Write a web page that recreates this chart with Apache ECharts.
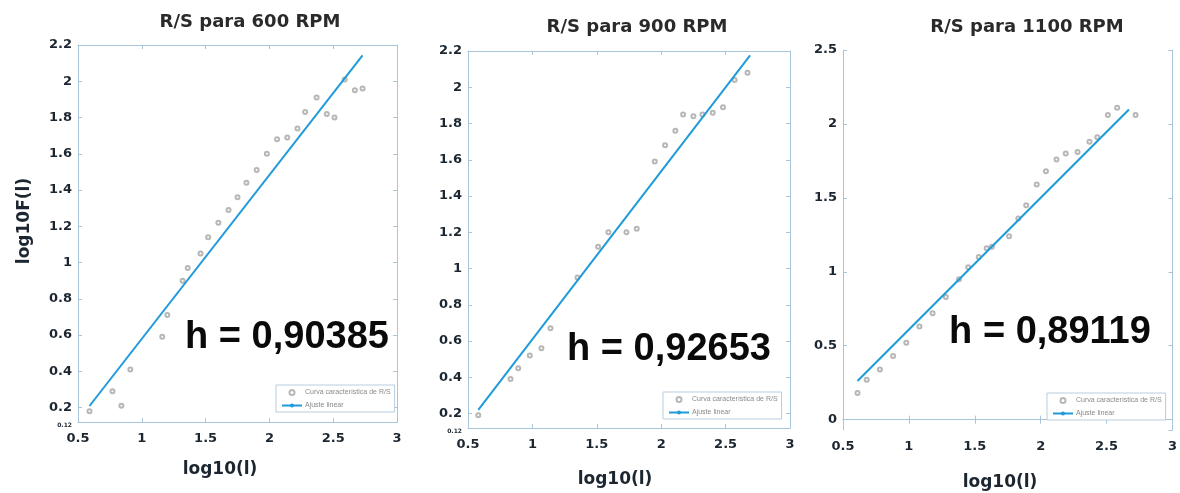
<!DOCTYPE html>
<html>
<head>
<meta charset="utf-8">
<title>R/S</title>
<script src="https://cdn.jsdelivr.net/npm/echarts@6/dist/echarts.min.js"></script>
<style>
  html, body { margin: 0; padding: 0; background: #ffffff; }
  #chart { width: 1180px; height: 493px; }
</style>
</head>
<body>
<div id="chart"></div>
<script>
// Panel titles and fitted Hurst exponents
const titles = ['R/S para 600 RPM', 'R/S para 900 RPM', 'R/S para 1100 RPM'];
const hurst = [0.90385, 0.92653, 0.89119];
const hLabels = ['h = 0,90385', 'h = 0,92653', 'h = 0,89119'];
const fitIntercept = [-0.325, -0.317, -0.282];
const fitRange = [[0.59, 2.73], [0.58, 2.69], [0.61, 2.67]];

// Axis ranges
const xRange = [0.5, 3];
const xStep = 0.5;
const yRanges = [[0.12, 2.2], [0.12, 2.2], [-0.07, 2.5]];
const ySteps = [0.2, 0.2, 0.5];

// log10(l) vs log10 F(l) points of the R/S curve
const rs600 = [
  [0.59, 0.18], [0.84, 0.21], [0.77, 0.29], [0.91, 0.41], [1.16, 0.59],
  [1.20, 0.71], [1.32, 0.90], [1.36, 0.97], [1.46, 1.05], [1.52, 1.14],
  [1.60, 1.22], [1.68, 1.29], [1.75, 1.36], [1.82, 1.44], [1.90, 1.51],
  [1.98, 1.60], [2.06, 1.68], [2.14, 1.69], [2.22, 1.74], [2.28, 1.83],
  [2.37, 1.91], [2.45, 1.82], [2.51, 1.80], [2.59, 2.01], [2.67, 1.95],
  [2.73, 1.96]
];
const rs900 = [
  [0.58, 0.19], [0.83, 0.39], [0.89, 0.45], [0.98, 0.52], [1.07, 0.56],
  [1.14, 0.67], [1.35, 0.95], [1.51, 1.12], [1.59, 1.20], [1.73, 1.20],
  [1.81, 1.22], [1.95, 1.59], [2.03, 1.68], [2.11, 1.76], [2.17, 1.85],
  [2.25, 1.84], [2.32, 1.85], [2.40, 1.86], [2.48, 1.89], [2.57, 2.04],
  [2.67, 2.08]
];
const rs1100 = [
  [0.61, 0.18], [0.68, 0.27], [0.78, 0.34], [0.88, 0.43], [0.98, 0.52],
  [1.08, 0.63], [1.18, 0.72], [1.28, 0.83], [1.38, 0.95], [1.45, 1.03],
  [1.53, 1.10], [1.59, 1.16], [1.63, 1.17], [1.76, 1.24], [1.83, 1.36],
  [1.89, 1.45], [1.97, 1.59], [2.04, 1.68], [2.12, 1.76], [2.19, 1.80],
  [2.28, 1.81], [2.37, 1.88], [2.43, 1.91], [2.51, 2.06], [2.58, 2.11],
  [2.72, 2.06]
];
const curves = [rs600, rs900, rs1100];

const NAME_CURVE = 'Curva característica de R/S';
const NAME_FIT = 'Ajuste linear';

const AXIS_COLOR = '#a9c5d9';
const LABEL_COLOR = '#1c2630';
const LABEL_FONT = 'DejaVu Sans';

const grids = [
  { left: 78, top: 45, width: 319, height: 377 },
  { left: 468, top: 51, width: 322, height: 377 },
  { left: 843, top: 50, width: 333, height: 380 }
];

const xAxes = [];
const yAxes = [];
const series = [];

grids.forEach(function (g, i) {
  const common = {
    gridIndex: i,
    type: 'value',
    axisLine: { show: true, lineStyle: { color: AXIS_COLOR, width: 1 } },
    axisTick: { show: true, inside: true, length: 4, lineStyle: { color: AXIS_COLOR } },
    splitLine: { show: false }
  };
  // bottom and top x axes (box with inward ticks)
  xAxes.push(Object.assign({}, common, {
    position: 'bottom', min: xRange[0], max: xRange[1], interval: xStep,
    axisLabel: { color: LABEL_COLOR, fontFamily: LABEL_FONT, fontWeight: 'bold', fontSize: 13, margin: 10 }
  }));
  xAxes.push(Object.assign({}, common, {
    position: 'top', min: xRange[0], max: xRange[1], interval: xStep,
    axisLabel: { show: false }
  }));
  // left and right y axes
  const yr = yRanges[i];
  const step = ySteps[i];
  const hasTinyMin = yr[0] > 0;
  yAxes.push(Object.assign({}, common, {
    position: 'left', min: yr[0], max: yr[1], minInterval: step, maxInterval: step,
    axisLabel: {
      color: LABEL_COLOR, fontFamily: LABEL_FONT, fontWeight: 'bold', fontSize: 13, margin: 6,
      showMinLabel: hasTinyMin,
      formatter: function (v) {
        if (Math.abs(v - yr[0]) < 1e-9) return '{t|' + v + '}';
        return String(+v.toFixed(2));
      },
      rich: { t: { fontSize: 6, fontFamily: LABEL_FONT, color: LABEL_COLOR, padding: [6, 0, 0, 0] } }
    }
  }));
  yAxes.push(Object.assign({}, common, {
    position: 'right', min: yr[0], max: yr[1], minInterval: step, maxInterval: step,
    axisLabel: { show: false }
  }));

  series.push({
    name: NAME_CURVE,
    type: 'scatter',
    xAxisIndex: i * 2,
    yAxisIndex: i * 2,
    symbol: 'emptyCircle',
    symbolSize: 4,
    itemStyle: { color: '#a5a5a5', borderWidth: 1, opacity: 0.8 },
    data: curves[i],
    z: 2
  });

  // fitted line y = h * x + b over the fitted range
  const xs = fitRange[i];
  const fitLine = xs.map(function (x) { return [x, hurst[i] * x + fitIntercept[i]]; });
  series.push({
    name: NAME_FIT,
    type: 'line',
    xAxisIndex: i * 2,
    yAxisIndex: i * 2,
    symbol: 'none',
    lineStyle: { color: '#1f9bd9', width: 2 },
    itemStyle: { color: '#1f9bd9' },
    data: fitLine,
    z: 3
  });
});

const legendBoxes = [
  { left: 276, top: 385 },
  { left: 663, top: 392 },
  { left: 1047, top: 393 }
];
const legends = legendBoxes.map(function (b) {
  return {
    left: b.left, top: b.top,
    orient: 'vertical',
    data: [NAME_CURVE, NAME_FIT],
    itemWidth: 20, itemHeight: 5, itemGap: 6,
    padding: [4, 4, 3, 5],
    borderColor: '#b7cde0', borderWidth: 1,
    backgroundColor: '#ffffff',
    selectedMode: false,
    textStyle: { fontSize: 7, color: '#8a8a8a', fontFamily: 'Liberation Sans', padding: [0, 0, 0, -2] }
  };
});

const titlePos = [[250, 22], [637, 27], [1027, 27]];
const xNamePos = [[220, 470], [615, 480], [1000, 483]];
const hPos = [[287, 338], [669, 350], [1050, 333]];

const graphics = [];
titles.forEach(function (t, i) {
  graphics.push({
    type: 'text', x: titlePos[i][0], y: titlePos[i][1],
    style: { text: t, fontFamily: LABEL_FONT, fontWeight: 'bold', fontSize: 18, fill: '#2a2a2a', align: 'center', verticalAlign: 'middle' }
  });
  graphics.push({
    type: 'text', x: xNamePos[i][0], y: xNamePos[i][1],
    style: { text: 'log10(l)', fontFamily: LABEL_FONT, fontWeight: 'bold', fontSize: 17, fill: '#1c2630', align: 'center', verticalAlign: 'middle' }
  });
  graphics.push({
    type: 'text', x: hPos[i][0], y: hPos[i][1], z: 10,
    style: { text: hLabels[i], fontFamily: 'Liberation Sans', fontWeight: 'bold', fontSize: 38, fill: '#0a0a0a', align: 'center', verticalAlign: 'middle' }
  });
});
graphics.push({
  type: 'text', x: 25, y: 221, rotation: Math.PI / 2,
  style: { text: 'log10F(l)', fontFamily: LABEL_FONT, fontWeight: 'bold', fontSize: 17, fill: '#1c2630', align: 'center', verticalAlign: 'middle' }
});

const chart = echarts.init(document.getElementById('chart'), null, { renderer: 'canvas' });
chart.setOption({
  backgroundColor: '#ffffff',
  animation: false,
  grid: grids,
  xAxis: xAxes,
  yAxis: yAxes,
  legend: legends,
  series: series,
  graphic: graphics
});
</script>
</body>
</html>
